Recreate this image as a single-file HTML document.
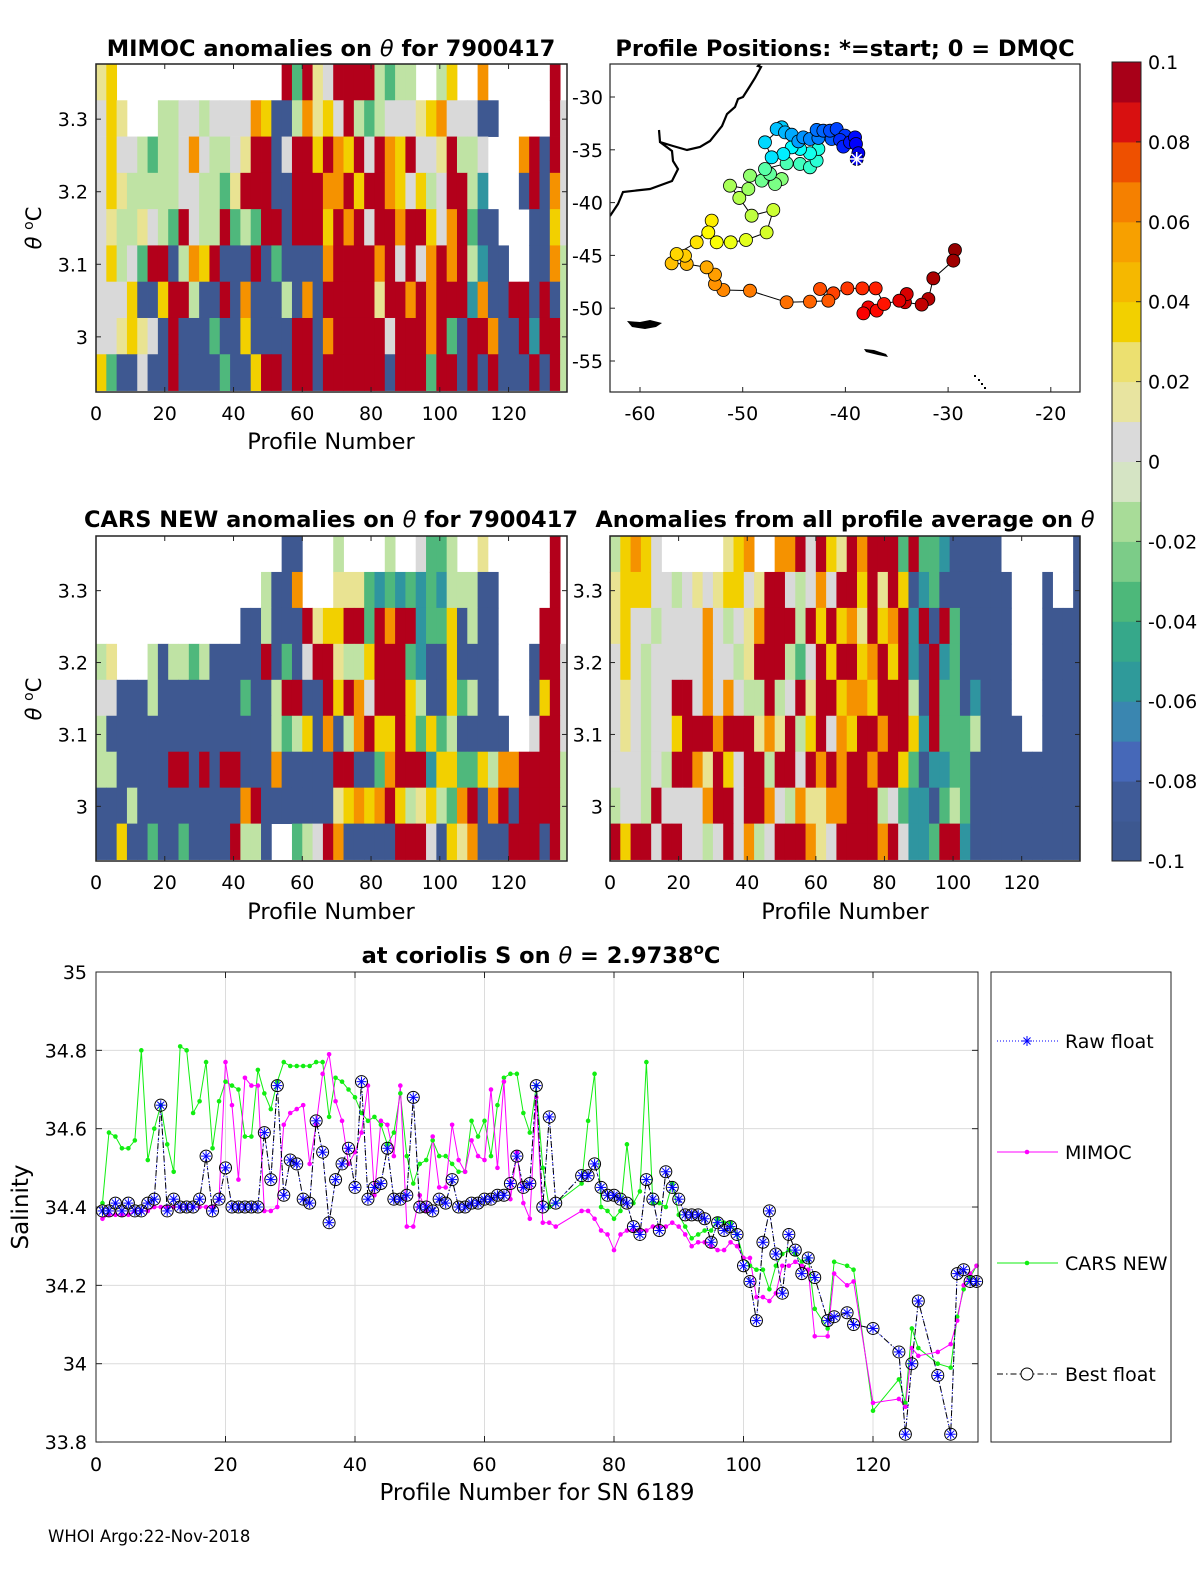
<!DOCTYPE html>
<html><head><meta charset="utf-8">
<style>
html,body{margin:0;padding:0;background:#fff;width:1200px;height:1575px;overflow:hidden}
svg{display:block;font-family:"DejaVu Sans","Liberation Sans",sans-serif}
.t{font-size:22.5px;font-weight:bold}
.k{font-size:22.5px}
</style></head>
<body>
<svg id="s" width="1200" height="1575" viewBox="0 0 1200 1575">
<defs>
<clipPath id="c1"><rect x="96" y="64" width="471" height="328"/></clipPath>
<clipPath id="c3"><rect x="96" y="536" width="471" height="325"/></clipPath>
<clipPath id="c4"><rect x="610" y="536" width="470" height="325"/></clipPath>
<clipPath id="cm"><rect x="610" y="64" width="470" height="328"/></clipPath>
</defs>
<g id="p1"></g>
<g id="p3"></g>
<g id="p4"></g>
<g id="map"></g>
<g id="cb"></g>
<g id="sal"></g>

<text class="t" x="331" y="56" text-anchor="middle">MIMOC anomalies on <tspan font-style="italic" font-weight="normal">θ</tspan>  for 7900417</text>
<text class="t" x="845" y="56" text-anchor="middle">Profile Positions: *=start; 0 = DMQC</text>
<text class="t" x="331" y="527" text-anchor="middle">CARS NEW anomalies on <tspan font-style="italic" font-weight="normal">θ</tspan> for 7900417</text>
<text class="t" x="845" y="527" text-anchor="middle">Anomalies from all profile average on <tspan font-style="italic" font-weight="normal">θ</tspan></text>
<text class="t" x="541" y="963" text-anchor="middle">at coriolis S on <tspan font-style="italic" font-weight="normal">θ</tspan> = 2.9738<tspan dy="-9" font-size="15">o</tspan><tspan dy="9">C</tspan></text>

<text style="font-size:22.5px" x="331" y="449" text-anchor="middle">Profile Number</text>
<text style="font-size:22.5px" x="331" y="919" text-anchor="middle">Profile Number</text>
<text style="font-size:22.5px" x="845" y="919" text-anchor="middle">Profile Number</text>
<text style="font-size:21px" transform="translate(41,228) rotate(-90)" text-anchor="middle"><tspan font-style="italic">θ</tspan> <tspan dy="-8" font-size="14">o</tspan><tspan dy="8">C</tspan></text>
<text style="font-size:21px" transform="translate(41,699) rotate(-90)" text-anchor="middle"><tspan font-style="italic">θ</tspan> <tspan dy="-8" font-size="14">o</tspan><tspan dy="8">C</tspan></text>
<text font-size="23" x="537" y="1500" text-anchor="middle">Profile Number for SN 6189</text>
<text font-size="23" transform="translate(28,1207) rotate(-90)" text-anchor="middle">Salinity</text>
<text font-size="16.5" x="48" y="1542">WHOI Argo:22-Nov-2018</text>
</svg>
<script>
// ---- heatmap data: 9 theta bins (top->bottom), 46 columns of 3 profiles ----
const mimocRows = [
"py                rgrpwrrrrlgll  ly  o      r ",
"wyp   llwwlwwwwoybblopywrlglwwwpyowwwbb     rw",
"wywwlgllwowllwprrbwrryroyrwroyrwwprllw   orbrw",
"wyplllllwwllgprrrbbrrrooryrroywylwrrlt   brbow",
"wpllpwlgrwllrglgrrbrrryrorwrrorryworgbb   bbyw",
"wylwgrrbloyrbbbrbgbbbborrrrorwrwororltbb  bbol",
"wwwybbyrrlbbrbobbblbobrrrrrprrororrrtobbrrbrbl",
"wwpypwbrbbbgbbybbbbrrborrrrrwrrrorgbrrobbrtrrl",
"ygbbwbbrbbbbgbbyrrbrrbrrrrrrbrrrgrrbrbrbbbrbrl"];
const carsRows = [
"                  bb   l    l  wggl  p      r ",
"                lbbo   pppgtgtgtgtlllbb     r ",
"              bblbbbrpyyrrgrorrtggyblbb    rr ",
"lp   lbllglbbbbbrbgbwrrpllyrrrgtbbybbbb   brrw",
"wwbbblbbbbbbbbgbblrrbbryrowrrrylbbyglbb   byrw",
"lbbbbbbbbbbbbbbbblglybobloryyrygyglbbbbb  wrrw",
"llbbbbbrrbrbrrbbbobbbbbrrbbgorrrtyyggyloorrrrl",
"bbblbbbbbbbbbborbbbbbbbpyoyorylpylgorborbrrrrl",
"bbybbgbbgbbbbrllb  glwrobbbbbrrrwbypobbbrrrbrl"];
const avgRows = [
"lyoyw      pyo  oorwryprorrrgrggtbbbbb       b",
"pyyywwlwpwpyywprrwlwowrryrprybtgbbbbbbb   b  b",
"pywwlwwwwowlwporrrlryryopryortrbrgbbbbb   bbbb",
"wywlwwwwwowwlprrrlgwryrryoryrtbrtgbbbbb   bbbb",
"wpwlwwrrwowowllrlwrprryooyrrrlbrggbtbbb   bbbb",
"wpwlwwyrrrorrrpoprlyrwoyrrorrytrggglbbbb  bbbb",
"wwwlwlrroprywrrlrrwrororrorrygbttggbbbbbbbbbbb",
"lwwlrwwwworrwrrowloppoorrrlwgttbglgbbbbbbbbbbb",
"ryrrwrrwwlwrwolwrrropwrrrrorwttgrrtbbbbbbbbbbb"];
const thetaTicks = [3, 3.1, 3.2, 3.3];
const profTicks = [0, 20, 40, 60, 80, 100, 120];

// ---- map data ----
const lons = [-38.90,-38.74,-38.97,-39.06,-39.55,-40.20,-40.52,-40.04,-40.85,-41.50,-41.34,-42.15,-42.80,-42.63,-43.45,-44.10,-44.58,-45.23,-45.88,-46.69,-46.20,-47.83,-47.18,-46.04,-45.23,-44.42,-43.45,-42.63,-42.80,-43.45,-44.42,-45.72,-47.83,-47.34,-48.15,-46.85,-46.20,-49.29,-49.45,-51.24,-50.33,-49.13,-47.02,-47.67,-49.68,-51.17,-52.53,-53.35,-53.02,-54.48,-56.43,-55.62,-56.92,-55.45,-53.51,-52.70,-52.70,-51.88,-49.29,-45.72,-43.45,-41.66,-42.47,-41.17,-39.81,-38.35,-37.05,-36.24,-36.95,-38.25,-37.77,-34.75,-34.03,-34.20,-32.57,-31.92,-31.44,-29.49,-29.33];
const lats = [-35.87,-35.33,-34.45,-33.82,-34.29,-34.70,-34.07,-33.66,-33.03,-33.19,-33.98,-33.19,-33.12,-33.88,-33.98,-33.82,-34.20,-33.57,-33.35,-33.03,-32.87,-34.29,-35.71,-35.40,-34.77,-34.92,-35.33,-34.92,-36.03,-36.66,-36.34,-36.28,-36.82,-37.29,-37.92,-38.24,-37.77,-37.45,-38.71,-38.40,-39.56,-41.24,-40.70,-42.82,-43.54,-43.76,-43.76,-42.82,-41.71,-43.76,-44.87,-45.03,-45.75,-45.81,-46.13,-46.82,-47.71,-48.28,-48.34,-49.44,-49.38,-49.29,-48.18,-48.59,-48.12,-48.12,-48.12,-49.60,-50.23,-50.49,-49.92,-49.29,-48.66,-49.44,-49.66,-49.13,-47.17,-45.50,-44.49];
const lonTicks = [-60,-50,-40,-30,-20];
const latTicks = [-30,-35,-40,-45,-50,-55];

// ---- colorbar ----
const cbTicks = [0.1,0.08,0.06,0.04,0.02,0,-0.02,-0.04,-0.06,-0.08,-0.1];
const cbLabels = ["0.1","0.08","0.06","0.04","0.02","0","-0.02","-0.04","-0.06","-0.08","-0.1"];

// ---- salinity series ----
const profiles = [1,2,3,4,5,6,7,8,9,10,11,12,13,14,15,16,17,18,19,20,21,22,23,24,25,26,27,28,29,30,31,32,33,34,35,36,37,38,39,40,41,42,43,44,45,46,47,48,49,50,51,52,53,54,55,56,57,58,59,60,61,62,63,64,65,66,67,68,69,70,71,75,76,77,78,79,80,81,82,83,84,85,86,87,88,89,90,91,92,93,94,95,96,97,98,99,100,101,102,103,104,105,106,107,108,109,110,111,113,114,116,117,120,124,125,126,127,130,132,133,134,135,136];
const bestFloat = [34.39,34.39,34.41,34.39,34.41,34.39,34.39,34.41,34.42,
34.66,34.39,34.42,34.40,34.40,34.40,34.42,34.53,34.39,34.42,
34.50,34.40,34.40,34.40,34.40,34.40,34.59,34.47,34.71,34.43,
34.52,34.51,34.42,34.41,34.62,34.54,34.36,34.47,34.51,34.55,
34.45,34.72,34.42,34.45,34.46,34.55,34.42,34.42,34.43,34.68,
34.40,34.40,34.39,34.42,34.41,34.47,34.40,34.40,34.41,34.41,
34.42,34.42,34.43,34.43,34.46,34.53,34.45,34.46,34.71,34.40,34.63,34.41,
34.48,34.48,34.51,34.45,34.43,34.43,34.42,34.41,34.35,34.33,34.47,34.42,34.34,34.49,
34.45,34.42,34.38,34.38,34.38,34.37,34.31,34.36,34.34,34.35,34.33,
34.25,34.21,34.11,34.31,34.39,34.28,34.18,34.33,34.29,34.23,34.27,34.22,
34.11,34.12,34.13,34.10,34.09,34.03,33.82,34.00,34.16,33.97,33.82,34.23,34.24,34.21,34.21];
const mimoc = [34.37,34.38,34.38,34.38,34.38,34.39,34.39,34.39,34.40,
34.40,34.40,34.40,34.40,34.40,34.40,34.40,34.40,34.40,34.42,
34.77,34.66,34.47,34.73,34.71,34.71,34.39,34.39,34.40,34.61,
34.64,34.65,34.66,34.51,34.61,34.74,34.79,34.67,34.62,34.51,
34.54,34.59,34.71,34.43,34.62,34.61,34.53,34.71,34.35,34.35,
34.43,34.39,34.58,34.45,34.45,34.61,34.52,34.49,34.57,34.53,
34.52,34.70,34.50,34.72,34.42,34.54,34.41,34.37,34.68,34.36,34.36,34.35,
34.39,34.39,34.37,34.34,34.33,34.29,34.33,34.34,34.34,34.34,34.34,34.35,34.35,34.35,
34.36,34.35,34.33,34.30,34.31,34.31,34.30,34.29,34.29,34.31,34.30,
34.27,34.27,34.17,34.17,34.16,34.18,34.25,34.25,34.26,34.25,34.24,34.07,
34.07,34.23,34.20,34.21,33.90,33.91,33.89,34.04,34.02,34.03,34.05,34.11,34.20,34.23,34.25];
const carsNew = [34.41,34.59,34.58,34.55,34.55,34.57,34.80,34.52,34.60,
34.66,34.56,34.49,34.81,34.80,34.64,34.67,34.77,34.55,34.67,
34.72,34.71,34.70,34.58,34.58,34.75,34.69,34.65,34.72,34.77,
34.76,34.76,34.76,34.76,34.77,34.77,34.63,34.73,34.72,34.70,
34.68,34.64,34.62,34.63,34.61,34.56,34.59,34.69,34.53,34.46,
34.51,34.52,34.57,34.53,34.53,34.51,34.49,34.49,34.62,34.58,
34.62,34.53,34.66,34.73,34.74,34.74,34.64,34.59,34.71,34.50,34.40,34.41,
34.46,34.62,34.74,34.40,34.39,34.37,34.39,34.56,34.41,34.44,34.77,34.41,34.41,34.40,
34.46,34.38,34.35,34.32,34.33,34.34,34.34,34.37,34.36,34.36,34.33,
34.27,34.25,34.24,34.24,34.19,34.25,34.28,34.29,34.28,34.26,34.27,34.14,
34.09,34.26,34.25,34.24,33.88,33.96,33.90,34.09,34.04,34.00,33.99,34.12,34.19,34.22,34.25];
const salTicks = [33.8,34,34.2,34.4,34.6,34.8,35];
const salTickLabels = ["33.8","34","34.2","34.4","34.6","34.8","35"];

const NS = "http://www.w3.org/2000/svg";
const FS = 19;
function mk(tag, attrs, parent){const e=document.createElementNS(NS,tag);for(const k in attrs)e.setAttribute(k,attrs[k]);if(parent)parent.appendChild(e);return e;}
const codeColor = {b:"#3e5891",t:"#2f95a0",g:"#4fb87c",l:"#bfe3a4",w:"#d9d9d9",p:"#e9e392",y:"#f2d000",o:"#f59200",r:"#b3001b"};

function heatPanel(gid, rows, x0, y0, w, h, clip, yLabelX){
  const g = document.getElementById(gid);
  const xs = p => x0 + p*(w/137);
  const ys = th => y0 + (3.376-th)*(h/0.452);
  const cg = mk("g",{"clip-path":"url(#"+clip+")"},g);
  rows.forEach((row,k)=>{
    const r = row.padEnd(46," ").slice(0,46);
    for(let i=0;i<46;i++){
      const c=r[i]; if(c===" ") continue;
      const cell = mk("rect",{x:xs(3*i),y:ys(3.376-0.05*k),width:xs(3*i+3)-xs(3*i)+0.4,height:ys(3.376-0.05*(k+1))-ys(3.376-0.05*k)+0.4,fill:codeColor[c]},cg);
      
      
    }
  });
  mk("rect",{x:x0,y:y0,width:w,height:h,fill:"none",stroke:"#222","stroke-width":1.5},g);
  profTicks.forEach(v=>{
    mk("line",{x1:xs(v),x2:xs(v),y1:y0,y2:y0+5,stroke:"#222"},g);
    mk("line",{x1:xs(v),x2:xs(v),y1:y0+h,y2:y0+h-5,stroke:"#222"},g);
    const t=mk("text",{x:xs(v),y:y0+h+28,"text-anchor":"middle","font-size":FS},g);t.textContent=v;
    
    
  });
  thetaTicks.forEach(v=>{
    mk("line",{x1:x0,x2:x0+5,y1:ys(v),y2:ys(v),stroke:"#222"},g);
    mk("line",{x1:x0+w,x2:x0+w-5,y1:ys(v),y2:ys(v),stroke:"#222"},g);
    const t=mk("text",{x:yLabelX,y:ys(v)+7,"text-anchor":"end","font-size":FS},g);t.textContent=v;
    
    
  });
}
heatPanel("p1", mimocRows, 96, 64, 471, 328, "c1", 88);
heatPanel("p3", carsRows, 96, 536, 471, 325, "c3", 88);
heatPanel("p4", avgRows, 610, 536, 470, 325, "c4", 603);

// ---- map ----
(function(){
  const g=document.getElementById("map");
  const mx = lon => 640 + (lon+60)*10.27;
  const my = lat => 97 + (-30-lat)*10.56;
  const cg = mk("g",{"clip-path":"url(#cm)"},g);
  const coast = mk("polyline",{points:"762,62 758,66 761,67 755,78 750,86 743,97 738,99 735,107 727,114 722,126 710,141 700,147 687,150 673,146 660,142 659,130 660,142 672,151 673,161 678,169 672,181 650,189 623,192 618,204 610,216",fill:"none",stroke:"#000","stroke-width":2.2},cg);
  
  
  const isl1 = mk("path",{d:"M627,321 L640,322 L650,320 L662,323 L656,327 L645,329 L632,327 Z",fill:"#000"},cg);
  
  
  const isl2 = mk("path",{d:"M864,349 L874,350 L886,354 L888,357 L878,355 L866,352 Z",fill:"#000"},cg);
  
  
  [[974,375],[978,379],[981,383],[984,387]].forEach(d=>mk("rect",{x:d[0],y:d[1],width:2,height:2,fill:"#000"},cg));
  let pts=lons.map((lo,i)=>mx(lo)+","+my(lats[i])).join(" ");
  const track=mk("polyline",{points:pts,fill:"none",stroke:"#000","stroke-width":1},cg);
  
  
  function jet(t){const r=Math.min(Math.max(Math.min(4*t-1.5,-4*t+4.5),0),1),gg=Math.min(Math.max(Math.min(4*t-0.5,-4*t+3.5),0),1),b=Math.min(Math.max(Math.min(4*t+0.5,-4*t+2.5),0),1);return "rgb("+Math.round(r*255)+","+Math.round(gg*255)+","+Math.round(b*255)+")";}
  for(let i=lons.length-1;i>=0;i--){
    const c=mk("circle",{cx:mx(lons[i]),cy:my(lats[i]),r:6.5,fill:jet(0.1+0.88*i/(lons.length-1)),stroke:"#000","stroke-width":0.8},cg);
    
    
  }
  const sx=mx(lons[0]), sy=my(lats[0]);
  for(let a=0;a<4;a++){const an=a*Math.PI/4;mk("line",{x1:sx-7*Math.cos(an),y1:sy-7*Math.sin(an),x2:sx+7*Math.cos(an),y2:sy+7*Math.sin(an),stroke:"#fff","stroke-width":1.5},cg);}
  mk("rect",{x:610,y:64,width:470,height:328,fill:"none",stroke:"#222","stroke-width":1.2},g);
  lonTicks.forEach(v=>{
    mk("line",{x1:mx(v),x2:mx(v),y1:392,y2:387,stroke:"#222"},g);
    const t=mk("text",{x:mx(v),y:420,"text-anchor":"middle","font-size":FS},g);t.textContent=v;
    
    
  });
  latTicks.forEach(v=>{
    mk("line",{x1:610,x2:615,y1:my(v),y2:my(v),stroke:"#222"},g);
    const t=mk("text",{x:603,y:my(v)+7,"text-anchor":"end","font-size":FS},g);t.textContent=v;
    
    
  });
})();

// ---- colorbar ----
(function(){
  const g=document.getElementById("cb");
  const cy = v => 62 + (0.1-v)*(799/0.2);
  const cols=["#3d5890","#3f5b98","#4668b8","#3a86b0","#2f9a9a","#36a88a","#4db87a","#7ccc88","#a8dc98","#d5e4c4","#dadada","#e8e4a0","#ece070","#f2d000","#f5b800","#f7a000","#f58000","#ee5000","#d81010","#a80018"];
  cols.forEach((c,i)=>{const v0=-0.1+0.01*i;const r=mk("rect",{x:1112,y:cy(v0+0.01),width:29,height:cy(v0)-cy(v0+0.01)+0.5,fill:c},g);
    
    });
  mk("rect",{x:1112,y:62,width:29,height:799,fill:"none",stroke:"#222","stroke-width":1},g);
  cbTicks.forEach((v,i)=>{
    mk("line",{x1:1136,x2:1141,y1:cy(v),y2:cy(v),stroke:"#222"},g);
    const t=mk("text",{x:1148,y:cy(v)+7,"font-size":FS},g);t.textContent=cbLabels[i];
    
    
  });
})();

// ---- salinity chart ----
(function(){
  const g=document.getElementById("sal");
  const bx = p => 96 + p*6.475;
  const by = s => 972 + (35-s)*391.7;
  mk("rect",{x:96,y:972,width:882,height:470,fill:"#fff"},g);
  profTicks.forEach(v=>{
    mk("line",{x1:bx(v),x2:bx(v),y1:972,y2:1442,stroke:"#dcdcdc"},g);
    mk("line",{x1:bx(v),x2:bx(v),y1:1442,y2:1436,stroke:"#222"},g);
    mk("line",{x1:bx(v),x2:bx(v),y1:972,y2:978,stroke:"#222"},g);
    const t=mk("text",{x:bx(v),y:1471,"text-anchor":"middle","font-size":FS},g);t.textContent=v;
    
    
  });
  salTicks.forEach((v,i)=>{
    mk("line",{x1:96,x2:978,y1:by(v),y2:by(v),stroke:"#dcdcdc"},g);
    mk("line",{x1:96,x2:102,y1:by(v),y2:by(v),stroke:"#222"},g);
    mk("line",{x1:978,x2:972,y1:by(v),y2:by(v),stroke:"#222"},g);
    const t=mk("text",{x:87,y:by(v)+7,"text-anchor":"end","font-size":FS},g);t.textContent=salTickLabels[i];
    
    
  });
  const line=(arr)=>profiles.map((p,i)=>bx(p)+","+by(arr[i])).join(" ");
  const gl=mk("polyline",{points:line(carsNew),fill:"none",stroke:"#11ee11","stroke-width":1},g);
  
  
  const ml=mk("polyline",{points:line(mimoc),fill:"none",stroke:"#ff00ff","stroke-width":1},g);
  
  
  profiles.forEach((p,i)=>{
    const a=mk("circle",{cx:bx(p),cy:by(carsNew[i]),r:2.3,fill:"#11ee11"},g);
    
    
    const b=mk("circle",{cx:bx(p),cy:by(mimoc[i]),r:2.3,fill:"#ff00ff"},g);
    
    
  });
  const rl=mk("polyline",{points:line(bestFloat),fill:"none",stroke:"#0000ff","stroke-width":1,"stroke-dasharray":"1,2"},g);
  
  
  const bl=mk("polyline",{points:line(bestFloat),fill:"none",stroke:"#000","stroke-width":1,"stroke-dasharray":"6,3,1.5,3"},g);
  
  
  function star(x,y,parent){for(let a=0;a<4;a++){const an=a*Math.PI/4;mk("line",{x1:x-5*Math.cos(an),y1:y-5*Math.sin(an),x2:x+5*Math.cos(an),y2:y+5*Math.sin(an),stroke:"#0000ff","stroke-width":1},parent);}}
  profiles.forEach((p,i)=>{
    const c=mk("circle",{cx:bx(p),cy:by(bestFloat[i]),r:6,fill:"none",stroke:"#000","stroke-width":1},g);
    
    
    star(bx(p),by(bestFloat[i]),g);
  });
  mk("rect",{x:96,y:972,width:882,height:470,fill:"none",stroke:"#222","stroke-width":1},g);
  // legend
  const lg=mk("g",{},g);
  
  
  mk("rect",{x:991,y:972,width:180,height:470,fill:"#fff",stroke:"#222","stroke-width":1},lg);
  const ents=[["Raw float",1041,"#0000ff","1,2"],["MIMOC",1152,"#ff00ff",""],["CARS NEW",1263,"#11ee11",""],["Best float",1374,"#000","6,3,1.5,3"]];
  ents.forEach((e,i)=>{
    const eg=mk("g",{},lg);
    
    
    mk("line",{x1:997,x2:1058,y1:e[1],y2:e[1],stroke:e[2],"stroke-width":1,"stroke-dasharray":e[3]},eg);
    if(i===0) star(1027,e[1],eg);
    if(i===1||i===2) mk("circle",{cx:1027,cy:e[1],r:2.3,fill:e[2]},eg);
    if(i===3) mk("circle",{cx:1027,cy:e[1],r:6,fill:"#fff",stroke:"#000"},eg);
    const t=mk("text",{x:1065,y:e[1]+7,"font-size":FS},eg);t.textContent=e[0];
  });
})();
</script>
</body></html>
